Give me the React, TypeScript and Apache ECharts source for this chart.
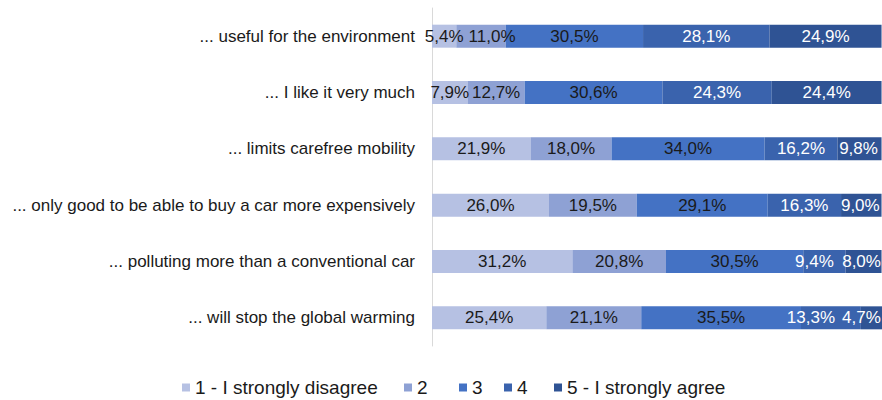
import React, { useEffect, useRef } from "react";
import * as echarts from "echarts";

const categories = [
  "... useful for the environment",
  "... I like it very much",
  "... limits carefree mobility",
  "... only good to be able to buy a car more expensively",
  "... polluting more than a conventional car",
  "... will stop the global warming",
];

const seriesNames = [
  "1 - I strongly disagree",
  "2",
  "3",
  "4",
  "5 - I strongly agree",
];

const s1 = [5.4, 7.9, 21.9, 26.0, 31.2, 25.4];
const s2 = [11.0, 12.7, 18.0, 19.5, 20.8, 21.1];
const s3 = [30.5, 30.6, 34.0, 29.1, 30.5, 35.5];
const s4 = [28.1, 24.3, 16.2, 16.3, 9.4, 13.3];
const s5 = [24.9, 24.4, 9.8, 9.0, 8.0, 4.7];

const seriesValues = [s1, s2, s3, s4, s5];
const colors = ["#B6C1E3", "#8EA1D4", "#4472C4", "#3A63AD", "#2F5394"];
const labelColors = ["#1a1a1a", "#1a1a1a", "#1a1a1a", "#ffffff", "#ffffff"];

// horizontal nudges of a few data labels, as placed in the original
const labelNudges: Record<string, number> = {
  "1-0": 11,
  "3-4": -10,
  "3-5": -20,
  "4-5": -10,
  "4-2": -1,
  "4-3": -1,
  "4-4": -2,
};

const legendLefts = [183, 405, 460, 505, 555];

const FONT = "'Liberation Sans', Arial, sans-serif";

export default function App() {
  const ref = useRef<HTMLDivElement>(null);
  useEffect(() => {
    if (!ref.current) return;
    const chart = echarts.init(ref.current, null, { renderer: "svg" });
    chart.setOption({
      animation: false,
      textStyle: { fontFamily: FONT },
      grid: { left: 432, top: 8, width: 450, height: 338, containLabel: false },
      xAxis: {
        type: "value",
        min: 0,
        max: 100,
        show: false,
      },
      yAxis: {
        type: "category",
        data: categories,
        inverse: true,
        axisLine: { show: true, lineStyle: { color: "#d9d9d9", width: 1 } },
        axisTick: { show: false },
        axisLabel: {
          color: "#1a1a1a",
          fontSize: 17,
          fontFamily: FONT,
          margin: 17,
        },
      },
      legend: seriesNames.map((name, i) => ({
        data: [name],
        left: legendLefts[i] - 1,
        top: 378,
        itemWidth: 8,
        itemHeight: 8,
        icon: "rect",
        padding: 0,
        textStyle: { fontSize: 19, color: "#1a1a1a", fontFamily: FONT },
      })),
      series: seriesValues.map((vals, i) => ({
        name: seriesNames[i],
        type: "bar",
        stack: "total",
        data: vals,
        barWidth: 23,
        itemStyle: { color: colors[i] },
        label: {
          show: true,
          position: "inside",
          color: labelColors[i],
          fontSize: 17,
          fontFamily: FONT,
          formatter: (p: any) => p.value.toFixed(1).replace(".", ",") + "%",
        },
        labelLayout: (p: any) => {
          const dx = labelNudges[`${i}-${p.dataIndex}`] || 0;
          return { hideOverlap: false, dx };
        },
      })),
    });
    return () => chart.dispose();
  }, []);
  return (
    <div
      ref={ref}
      style={{ position: "fixed", left: 0, top: 0, width: 882, height: 400, background: "#fff" }}
    />
  );
}
